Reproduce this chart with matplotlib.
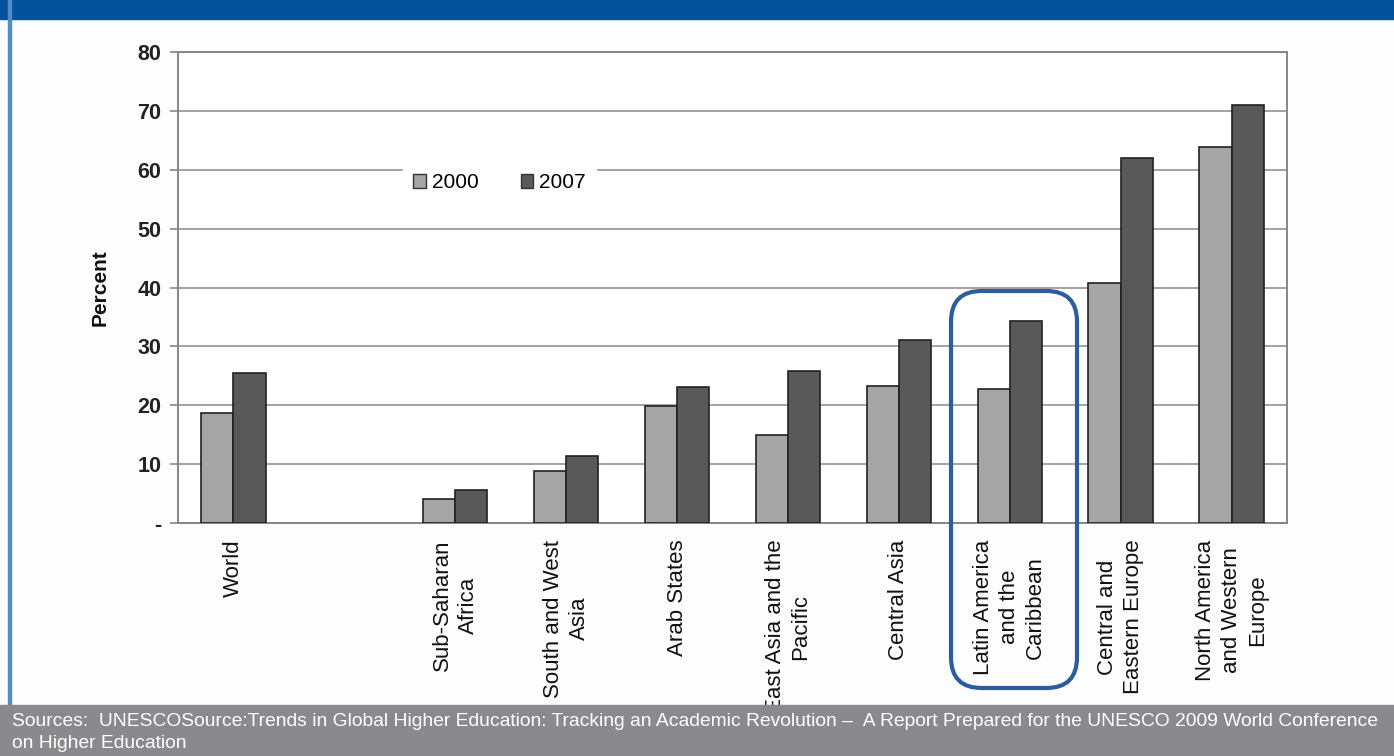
import matplotlib.pyplot as plt
import numpy as np
from matplotlib.patches import FancyBboxPatch, Rectangle, Patch

plt.rcParams['font.family'] = ['Liberation Sans', 'DejaVu Sans']

# Gross enrolment ratio in tertiary education by region
regions = ["World", "", "Sub-Saharan\nAfrica", "South and West\nAsia", "Arab States",
           "East Asia and the\nPacific", "Central Asia", "Latin America\nand the\nCaribbean",
           "Central and\nEastern Europe", "North America\nand Western\nEurope"]
ger_2000 = [18.7, np.nan, 4.1, 8.8, 19.9, 14.9, 23.3, 22.8, 40.7, 63.8]
ger_2007 = [25.5, np.nan, 5.6, 11.4, 23.1, 25.8, 31.1, 34.3, 62.0, 71.0]
y_ticks = [0, 10, 20, 30, 40, 50, 60, 70, 80]
y_labels = ["-", "10", "20", "30", "40", "50", "60", "70", "80"]

W, H = 1394, 756
fig = plt.figure(figsize=(W / 100, H / 100), dpi=100)
fig.patch.set_facecolor("#fdfdfd")

# header band, left rule, footer
fig.add_artist(Rectangle((0, 1 - 19 / H), 1, 19 / H, transform=fig.transFigure,
                         color="#03529b", zorder=0))
fig.add_artist(Rectangle((8 / W, 0), 3 / W, 1, transform=fig.transFigure,
                         color="#4f8cc6", zorder=0))
fig.add_artist(Rectangle((0, 0), 1, 51 / H, transform=fig.transFigure,
                         color="#8a898e", zorder=1))
fig.text(12 / W, 35 / H,
         "Sources:  UNESCOSource:Trends in Global Higher Education: Tracking an Academic "
         "Revolution \u2013  A Report Prepared for the UNESCO 2009 World Conference",
         color="white", fontsize=13.9, va="center", ha="left", zorder=2)
fig.text(12 / W, 13 / H, "on Higher Education", color="white", fontsize=13.9,
         va="center", ha="left", zorder=2)

ax = fig.add_axes([178 / W, 233 / H, 1109 / W, 471 / H])
ax.set_facecolor("white")
x = np.arange(len(regions))
bw = 0.29
ax.bar(x - bw / 2, ger_2000, bw, color="#a5a5a5", edgecolor="#222222", linewidth=1.2,
       zorder=3, label="2000")
ax.bar(x + bw / 2, ger_2007, bw, color="#595959", edgecolor="#222222", linewidth=1.2,
       zorder=3, label="2007")

ax.set_xlim(-0.5, len(regions) - 0.5)
ax.set_ylim(0, 80)
ax.set_yticks(y_ticks)
ax.set_yticklabels(y_labels, fontsize=15.5, fontweight="bold", color="#222222")
ax.set_xticks(x)
ax.set_xticklabels(regions, rotation=90, fontsize=16, va="top", ha="center",
                   multialignment="center", linespacing=1.3, color="#111111")
ax.tick_params(axis="y", length=6, width=1.2, color="#8c8480", pad=6)
ax.tick_params(axis="x", length=0, pad=12)
ax.yaxis.grid(True, color="#a39a95", linewidth=1.3, zorder=0)
for s in ax.spines.values():
    s.set_color("#8c8480")
    s.set_linewidth(1.4)
ax.set_ylabel("Percent", fontsize=15, fontweight="bold", labelpad=20, color="#111111")

handles = [Patch(facecolor="#a5a5a5", edgecolor="#333333", label="2000"),
           Patch(facecolor="#595959", edgecolor="#333333", label="2007")]
leg = ax.legend(handles=handles, ncol=2, loc="center", bbox_to_anchor=(0.29, 0.722),
                frameon=True, facecolor="white", edgecolor="white", framealpha=1,
                fontsize=15, handlelength=0.6, handleheight=0.6, handletextpad=0.3,
                columnspacing=2.0, borderpad=0.5, fancybox=False)
leg.set_zorder(4)

# highlight around Latin America and the Caribbean
fig.add_artist(FancyBboxPatch((951 / W, (H - 688) / H), 126 / W, 397 / H,
                              boxstyle="round,pad=0,rounding_size=0.022",
                              transform=fig.transFigure, fill=False,
                              edgecolor="#2c5d9e", linewidth=3, zorder=5,
                              mutation_aspect=W / H))

fig.savefig("out.png", dpi=100, facecolor=fig.get_facecolor())
